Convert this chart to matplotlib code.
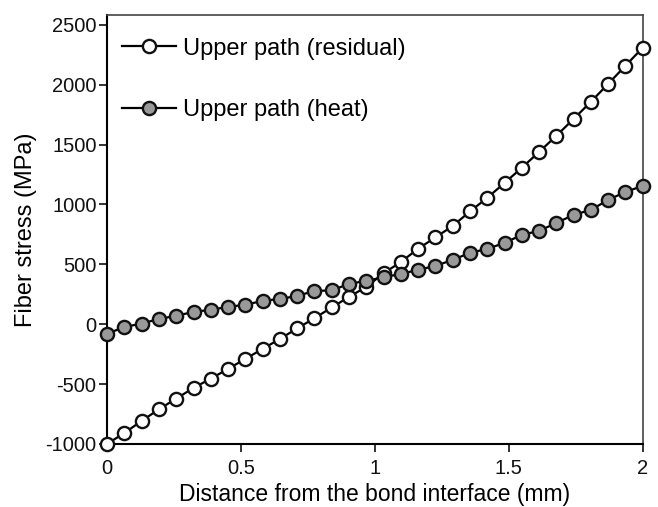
import matplotlib
matplotlib.use("Agg")
import matplotlib.pyplot as plt

plt.rcParams['font.family'] = ['Liberation Sans', 'DejaVu Sans']
plt.rcParams['axes.unicode_minus'] = False

# distance from bond interface (mm), 32 evenly spaced stations
distance = [0.000, 0.065, 0.129, 0.194, 0.258, 0.323, 0.387, 0.452,
            0.516, 0.581, 0.645, 0.710, 0.774, 0.839, 0.903, 0.968,
            1.032, 1.097, 1.161, 1.226, 1.290, 1.355, 1.419, 1.484,
            1.548, 1.613, 1.677, 1.742, 1.806, 1.871, 1.935, 2.000]

residual = [-1000, -908, -808, -710, -622, -532, -455, -373,
            -290, -206, -123, -35, 50, 140, 228, 312,
            425, 520, 630, 725, 820, 942, 1055, 1180,
            1306, 1439, 1573, 1715, 1857, 2008, 2158, 2310]

heat = [-80, -23, 5, 44, 70, 103, 120, 145,
        162, 195, 211, 236, 278, 282, 337, 362,
        392, 420, 454, 487, 537, 596, 629, 679,
        746, 779, 846, 913, 955, 1038, 1105, 1155]

labels = ["Upper path (residual)", "Upper path (heat)"]
x_ticks = [0, 0.5, 1, 1.5, 2]
x_ticklabels = ["0", "0.5", "1", "1.5", "2"]
y_ticks = [-1000, -500, 0, 500, 1000, 1500, 2000, 2500]

fig = plt.figure(figsize=(6.58, 5.07), dpi=100)
ax = fig.add_axes([0.1626, 0.1243, 0.8144, 0.8457])

ax.plot(distance, residual, color='black', lw=1.6, marker='o', ms=9.5,
        mfc='white', mec='#111111', mew=1.7, label=labels[0], clip_on=False, zorder=3)
ax.plot(distance, heat, color='black', lw=1.6, marker='o', ms=9.5,
        mfc='#999999', mec='#111111', mew=1.7, label=labels[1], clip_on=False, zorder=4)

ax.set_xlim(0, 2)
ax.set_ylim(-1000, 2580)
ax.set_xticks(x_ticks)
ax.set_xticklabels(x_ticklabels)
ax.set_yticks(y_ticks)
ax.tick_params(direction='out', length=5.5, width=1.2, labelsize=14.5, colors='#111111')
ax.tick_params(axis='x', pad=5)
ax.tick_params(axis='y', pad=2)

for side in ['left', 'bottom']:
    ax.spines[side].set_linewidth(1.5)
    ax.spines[side].set_color('black')
for side in ['top', 'right']:
    ax.spines[side].set_linewidth(1.2)
    ax.spines[side].set_color('#444444')

ax.set_xlabel("Distance from the bond interface (mm)", fontsize=16.5, labelpad=4)
ax.set_ylabel("Fiber stress (MPa)", fontsize=17, labelpad=6)

ax.legend(loc='upper left', bbox_to_anchor=(0.028, 0.948), frameon=False,
          fontsize=17, handlelength=2.3, handletextpad=0.3, labelspacing=1.68,
          borderaxespad=0, borderpad=0)

fig.savefig("out.png", dpi=100)
